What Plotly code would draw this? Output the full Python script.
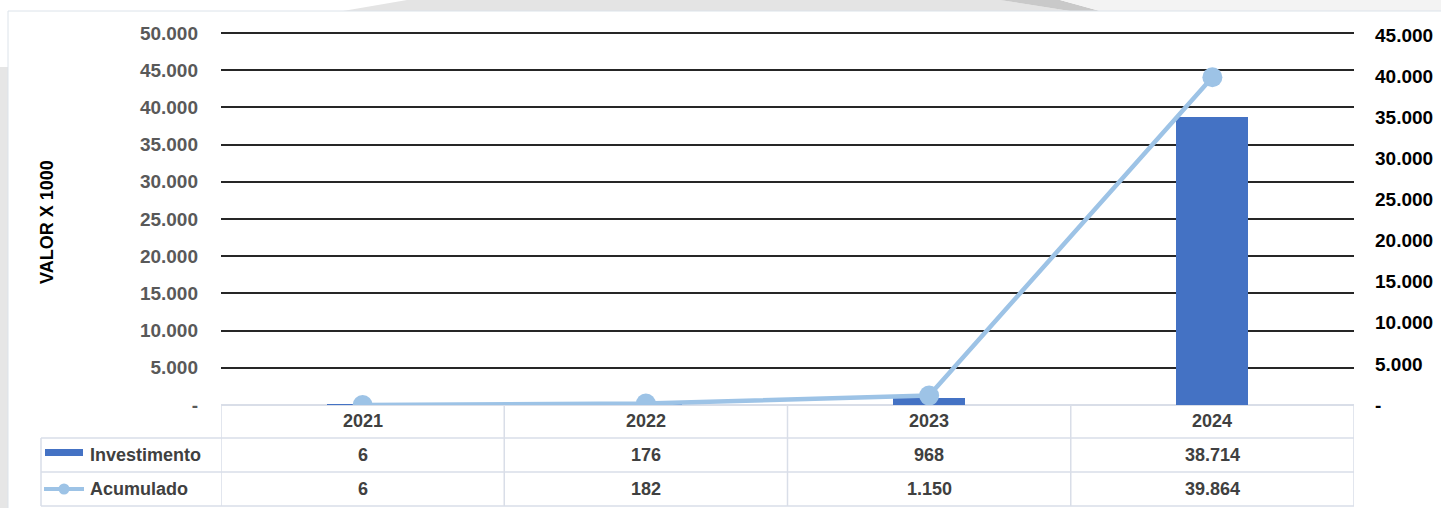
import plotly.graph_objects as go

# ---------------- data ----------------
categories = ["2021", "2022", "2023", "2024"]
investimento = [6, 176, 968, 38714]
acumulado = [6, 182, 1150, 39864]
series_names = ["Investimento", "Acumulado"]
left_ticks = [0, 5000, 10000, 15000, 20000, 25000, 30000, 35000, 40000, 45000, 50000]
right_ticks = [0, 5000, 10000, 15000, 20000, 25000, 30000, 35000, 40000, 45000]
y_title = "VALOR X 1000"

# ---------------- styling ----------------
W, H = 1441, 508
BAR_COLOR = "#4472C4"
LINE_COLOR = "#9DC3E6"
TABLE_BORDER = "#D9DEE8"
FONT = "Liberation Sans"
FS = 18
TICK_FS = 19

# plot area in pixels: left 221, right 1354, bottom 405, top 30
PLOT_TOP = 30
Y1_MAX = 50000 * (405 - PLOT_TOP) / (405 - 33)   # 50.000 sits at y=33
Y2_MAX = 45000 * (405 - PLOT_TOP) / (405 - 35)   # 45.000 sits at y=35


def fmt(v):
    return "-" if v == 0 else f"{v:,}".replace(",", ".")


def px(x):
    return x / W


def py(y):
    return 1 - y / H


fig = go.Figure()
fig.add_trace(go.Bar(
    x=categories, y=investimento, name=series_names[0],
    marker=dict(color=BAR_COLOR, line=dict(width=0)),
    width=0.255, yaxis="y",
))
fig.add_trace(go.Scatter(
    x=categories, y=acumulado, name=series_names[1], yaxis="y2",
    mode="lines+markers",
    line=dict(color=LINE_COLOR, width=4.5),
    marker=dict(color=LINE_COLOR, size=20),
))

shapes = []
# background decoration
shapes.append(dict(type="rect", xref="paper", yref="paper", x0=0, x1=px(8), y0=0, y1=py(67),
                   fillcolor="#E6E6E6", line=dict(width=0), layer="below"))
shapes.append(dict(type="path", xref="paper", yref="paper",
                   path=f"M {px(343)} {py(11)} L {px(407)} {py(0)} L {px(1000)} {py(0)} L {px(1070)} {py(11)} Z",
                   fillcolor="#E4E4E4", line=dict(width=0), layer="below"))
shapes.append(dict(type="path", xref="paper", yref="paper",
                   path=f"M {px(1000)} {py(0)} L {px(1060)} {py(0)} L {px(1100)} {py(11)} L {px(1070)} {py(11)} Z",
                   fillcolor="#C9C9C9", line=dict(width=0), layer="below"))
shapes.append(dict(type="path", xref="paper", yref="paper",
                   path=f"M {px(1060)} {py(0)} L {px(1441)} {py(0)} L {px(1441)} {py(11)} L {px(1100)} {py(11)} Z",
                   fillcolor="#F3F3F3", line=dict(width=0), layer="below"))
shapes.append(dict(type="rect", xref="paper", yref="paper", x0=px(8), x1=px(1445), y0=py(512), y1=py(11),
                   fillcolor="white", line=dict(color="#DCE3EA", width=1), layer="below"))

# data table borders
for yy in [438, 472, 506]:
    shapes.append(dict(type="line", xref="paper", yref="paper", x0=px(41), x1=px(1354),
                       y0=py(yy), y1=py(yy), line=dict(color=TABLE_BORDER, width=1.5)))
shapes.append(dict(type="line", xref="paper", yref="paper", x0=px(41), x1=px(41),
                   y0=py(438), y1=py(506), line=dict(color=TABLE_BORDER, width=1.5)))
for i in range(len(categories) + 1):
    shapes.append(dict(type="line", xref="x", yref="paper", x0=i - 0.5, x1=i - 0.5,
                       y0=py(405), y1=py(506), line=dict(color=TABLE_BORDER, width=1.5)))
# legend keys
shapes.append(dict(type="rect", xref="paper", yref="paper", x0=px(45), x1=px(83), y0=py(456), y1=py(449),
                   fillcolor=BAR_COLOR, line=dict(width=0)))
shapes.append(dict(type="line", xref="paper", yref="paper", x0=px(44), x1=px(84), y0=py(489), y1=py(489),
                   line=dict(color=LINE_COLOR, width=4)))
shapes.append(dict(type="circle", xref="paper", yref="paper", x0=px(58.5), x1=px(69.5), y0=py(494.5), y1=py(483.5),
                   fillcolor=LINE_COLOR, line=dict(width=0)))

annotations = []
tfont = dict(family=FONT, size=FS, color="#404040", weight="bold")
for i, c in enumerate(categories):
    for text, yy in [(c, 421), (fmt(investimento[i]), 455), (fmt(acumulado[i]), 489)]:
        annotations.append(dict(x=i, xref="x", y=py(yy), yref="paper", text=text, showarrow=False,
                                font=tfont, xanchor="center", yanchor="middle"))
for name, yy in zip(series_names, [455, 489]):
    annotations.append(dict(x=px(88), xref="paper", y=py(yy), yref="paper", text=name, showarrow=False,
                            font=tfont, xanchor="left", yanchor="middle"))
annotations.append(dict(x=px(47), xref="paper", y=py(222), yref="paper", text=y_title, showarrow=False,
                        textangle=-90, font=dict(family=FONT, size=18, color="#000000", weight="bold"),
                        xanchor="center", yanchor="middle"))

fig.update_layout(
    width=W, height=H,
    margin=dict(l=0, r=0, t=0, b=0, autoexpand=False),
    paper_bgcolor="white", plot_bgcolor="rgba(0,0,0,0)",
    showlegend=False,
    bargap=0,
    font=dict(family=FONT, size=FS),
    xaxis=dict(type="category", range=[-0.5, 3.5], domain=[px(221), px(1354)], automargin=False,
               showticklabels=False, showgrid=False, zeroline=False, showline=False, ticks=""),
    yaxis=dict(range=[0, Y1_MAX], domain=[py(405), py(PLOT_TOP)], automargin=False,
               tickvals=left_ticks, ticktext=[fmt(v) for v in left_ticks],
               tickfont=dict(family=FONT, size=TICK_FS, color="#595959", weight="bold"),
               showgrid=True, gridcolor="#262626", gridwidth=1.5,
               zeroline=True, zerolinecolor=TABLE_BORDER, zerolinewidth=1.5,
               showline=False, ticks="", ticklabelstandoff=22),
    yaxis2=dict(range=[0, Y2_MAX], overlaying="y", side="right", anchor="x", automargin=False,
                tickvals=right_ticks, ticktext=[fmt(v) for v in right_ticks],
                tickfont=dict(family=FONT, size=TICK_FS, color="#000000", weight="bold"),
                showgrid=False, zeroline=False, showline=False, ticks="", ticklabelstandoff=20),
    shapes=shapes,
    annotations=annotations,
)

fig.write_html("out.html", config={"responsive": False, "displayModeBar": False},
               post_script="document.body.style.margin='0';document.body.style.overflow='hidden';")
